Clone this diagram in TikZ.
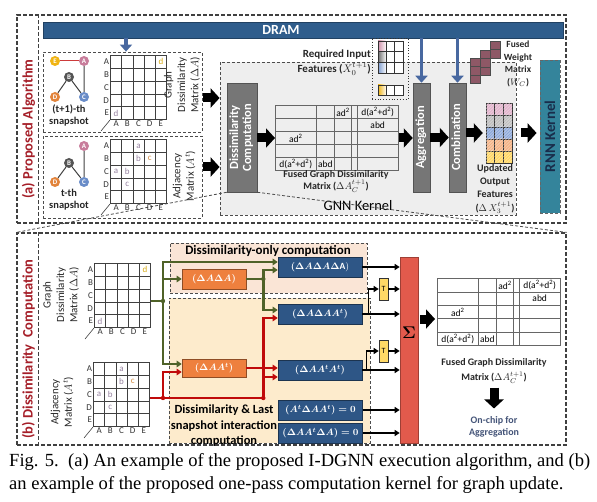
\documentclass[tikz,border=0pt]{standalone}
\usepackage{fix-cm}
\usepackage{amsmath,amssymb}
\usepackage{fontspec}
\setmainfont{Carlito}
\newfontfamily\capfont{Liberation Serif}
\usepackage{tikz}
\usetikzlibrary{arrows.meta, positioning, fit, calc, matrix, patterns}
\definecolor{DramBlue}{RGB}{47,93,140}
\definecolor{ArrBlue}{RGB}{72,104,160}
\definecolor{ProcGray}{RGB}{118,118,118}
\definecolor{KernGray}{RGB}{238,238,238}
\definecolor{SecRed}{RGB}{165,30,40}
\definecolor{OpOrange}{RGB}{238,128,62}
\definecolor{OpBlue}{RGB}{46,86,134}
\definecolor{LnGreen}{RGB}{79,98,40}
\definecolor{LnRed}{RGB}{192,10,10}
\definecolor{RegPink}{RGB}{250,229,214}
\definecolor{RegCream}{RGB}{253,235,204}
\definecolor{SumRed}{RGB}{226,90,76}
\definecolor{TYellow}{RGB}{255,217,102}
\definecolor{RnnTeal}{RGB}{52,132,155}
\definecolor{RnnText}{RGB}{25,45,75}
\definecolor{WMaroon}{RGB}{142,88,102}
\definecolor{NdYellow}{RGB}{240,180,20}
\definecolor{NdPink}{RGB}{200,125,155}
\definecolor{NdGray}{RGB}{85,85,85}
\definecolor{NdOrange}{RGB}{226,132,60}
\definecolor{NdBlue}{RGB}{105,140,200}
\definecolor{LtMauve}{RGB}{150,130,160}
\definecolor{LtGold}{RGB}{215,170,20}
\definecolor{LtOrange}{RGB}{210,140,70}
\definecolor{FtPink}{RGB}{226,180,204}
\definecolor{FtGray}{RGB}{190,190,190}
\definecolor{FtBlue}{RGB}{140,168,218}
\definecolor{FtOrange}{RGB}{244,178,132}
\definecolor{FtYellow}{RGB}{255,215,100}
\definecolor{ChipText}{RGB}{68,84,120}
\newcommand{\fsz}[2]{\fontsize{#1}{#2}\selectfont}
\newcommand{\vlab}[1]{\rotatebox{90}{\begin{tabular}{@{}c@{}}#1\end{tabular}}}
\newcommand{\tsq}{\textsuperscript{2}}
\tikzset{
  secbox/.style={draw=black!75, line width=1.2bp, dash pattern=on 4bp off 2bp},
  dbox/.style={draw=black!70, line width=0.8bp, dash pattern=on 3bp off 2bp},
  procbox/.style={rectangle, fill=ProcGray, draw=ProcGray!70!black, line width=0.5bp,
    text=white, font=\fsz{12.5}{13}\bfseries, inner sep=0pt},
  opbox/.style={rectangle, fill=OpOrange, draw=OpOrange!60!black, line width=0.6bp,
    text=white, minimum width=64bp, font=\fsz{9.5}{10}},
  resbox/.style={rectangle, fill=OpBlue, draw=OpBlue!60!black, line width=0.6bp,
    text=white, minimum width=84bp, minimum height=20bp, font=\fsz{9.5}{10}},
  tbox/.style={rectangle, fill=TYellow, draw=black!80, line width=0.6bp,
    minimum width=9bp, minimum height=22bp, inner sep=0pt, font=\fsz{8}{9}},
  gnode/.style={circle, minimum size=10bp, inner sep=0pt, text=white, font=\fsz{7}{8}\bfseries},
  gedge/.style={draw=black!75, line width=1bp},
  cellmat/.style={matrix of nodes, nodes in empty cells, inner sep=0pt,
    column sep=-0.6bp, row sep=-0.6bp,
    nodes={draw=black!75, line width=0.6bp, minimum width=11.2bp, minimum height=12.8bp,
      inner sep=0pt, anchor=center, text=LtMauve, font=\fsz{9}{10}}},
  fusedmat/.style={matrix of nodes, nodes in empty cells, inner sep=0pt,
    column sep=-0.6bp, row sep=-0.6bp,
    nodes={draw=black!60, line width=0.6bp, minimum height=13bp, inner sep=0pt,
      anchor=center, font=\fsz{9.5}{10}},
    column 1/.style={nodes={minimum width=40.6bp}},
    column 2/.style={nodes={minimum width=18.6bp}},
    column 3/.style={nodes={minimum width=16.6bp}},
    column 4/.style={nodes={minimum width=5.6bp}},
    column 5/.style={nodes={minimum width=41.6bp}}},
  axl/.style={font=\fsz{9}{10}, text=black!80, inner sep=1bp},
  lbl/.style={font=\fsz{10.5}{12}\bfseries, text=black!85, align=center, inner sep=0pt},
  vlbl/.style={font=\fsz{11}{13.5}, text=black!85, align=center, rotate=90, inner sep=0pt},
  fatarr/.style={-{Triangle[length=9bp, width=19bp]}, line width=9bp, draw=black},
  dramarr/.style={-{Triangle[length=7bp, width=12bp]}, line width=3.5bp, draw=ArrBlue},
  garr/.style={-{Triangle[length=5bp, width=6.5bp]}, line width=2.4bp, draw=LnGreen},
  gln/.style={line width=2.4bp, draw=LnGreen},
  rarr/.style={-{Triangle[length=5bp, width=6.5bp]}, line width=2.4bp, draw=LnRed},
  rln/.style={line width=2.4bp, draw=LnRed},
  barr/.style={-{Triangle[length=5bp, width=6bp]}, line width=1.6bp, draw=black}
}

\begin{document}
\begin{tikzpicture}[x=1bp, y=-1bp, font=\fsz{10}{12}]
\useasboundingbox (0,0) rectangle (597,502);

% ---------- (a) proposed algorithm
\node[secbox, fit={(17,15) (566,223)}, inner sep=0pt] (secA) {};
\draw[secbox] ($(secA.north west)+(22,0)$) -- ($(secA.south west)+(22,0)$);
\node[font=\fsz{14.5}{16}\bfseries, text=SecRed, rotate=90] (labA) at (28.5,129) {(a) Proposed Algorithm};

\node[fill=DramBlue, draw=DramBlue!70!black, line width=0.5bp, fit={(43,22) (563,38)}, inner sep=0pt] (dram) {};
\node[font=\fsz{14}{16}\bfseries, text=white] (dramtxt) at (281,30) {DRAM};

\node[dbox, fit={(43,52) (202,132)}, inner sep=0pt] (snapT1) {};
\node[dbox, fit={(43,136) (202,218)}, inner sep=0pt] (snapT0) {};
\node[dbox, fill=KernGray, fit={(220,62) (516,215)}, inner sep=0pt] (gnn) {};

\coordinate (inT1) at ($(snapT1.north)+(3.5,0)$);
\draw[dramarr] (dram.south -| inT1) -- (inT1);

% snapshot graphs
\node[gnode, fill=NdYellow] (e1) at (55,61) {E};
\node[gnode, fill=NdPink] (a1) at (84,61) {A};
\node[gnode, fill=NdGray] (b1) at (69,77) {B};
\node[gnode, fill=NdOrange] (d1) at (55,97) {D};
\node[gnode, fill=NdBlue] (c1) at (84,97) {C};
\draw[gedge, draw=LnRed!80] (e1) -- (a1);
\draw[gedge] (a1) -- (c1) (b1) -- (d1) (b1) -- (c1);
\node[lbl] (capT1) at (69,115) {(t+1)-th\\snapshot};

\node[gnode, fill=NdPink] (a0) at (84,146) {A};
\node[gnode, fill=NdGray] (b0) at (69,163) {B};
\node[gnode, fill=NdOrange] (d0) at (55,182) {D};
\node[gnode, fill=NdBlue] (c0) at (84,182) {C};
\draw[gedge] (a0) -- (c0) (b0) -- (d0) (b0) -- (c0);
\node[lbl] (capT0) at (69,200) {t-th\\snapshot};

% input matrices
\matrix (mGa) [cellmat, anchor=north west] at (110,55) {
  &&&&|[text=LtGold]|d\\ &&&&\\ &&&&\\ &&&&\\ d&&&&\\ };
\matrix (mAa) [cellmat, anchor=north west] at (110,139) {
  &&a&&\\ &&b&|[text=LtOrange]|c&\\ a&b&&&\\ &c&&&\\ &&&&\\ };
\node[vlbl] (lGa) at (182,85) {Graph\\Dissimilarity\\Matrix ($\Delta A$)};
\node[vlbl] (lAa) at (184,176) {Adjacency\\Matrix ($A^t$)};

\path (snapT1.east) ++(1,6) coordinate (o1);
\draw[fatarr] (o1) -- (o1 -| gnn.west);
\path (snapT0.east) ++(1,-10) coordinate (o0);
\draw[fatarr] (o0) -- (o0 -| gnn.west);

% GNN kernel
\node[procbox, minimum width=30bp, minimum height=109bp] (dc) at (242,137.5) {\vlab{Dissimilarity\\Computation}};
\matrix (fA) [fusedmat, anchor=north west] at (275,105) {
  &&ad\tsq&&d(a\tsq+d\tsq)\\
  &&&&abd\\
  ad\tsq&&&&\\
  &&&&\\
  d(a\tsq+d\tsq)&abd&&&\\ };
\draw[fatarr] (dc.east |- fA.west) -- (fA.west);
\node[lbl, font=\fsz{10}{11.5}\bfseries] (fAlab) at (336,181.5) {Fused Graph Dissimilarity\\Matrix ($\Delta A_C^{t+1}$)};
\node[font=\fsz{14.5}{16}] (gnnlab) at (358,205.5) {GNN Kernel};

\node[draw=black!80, line width=0.8bp, dotted, fit={(372,38) (408,99)}, inner sep=0pt] (rqbox) {};
\foreach \c [count=\i from 0] in {NdPink,NdGray,NdBlue} {
  \draw[draw=black!80, line width=0.6bp, left color=\c!85, right color=white] (378,41+\i*10.7) rectangle ++(8.3,10.7);
  \foreach \j in {1,2}
    \draw[draw=black!80, line width=0.6bp, fill=white] (378+\j*8.3,41+\i*10.7) rectangle ++(8.3,10.7);
}
\draw[draw=black!80, line width=0.6bp, left color=NdYellow, right color=white] (378,85) rectangle ++(8.3,10);
\foreach \j in {1,2}
  \draw[draw=black!80, line width=0.6bp, fill=white] (378+\j*8.3,85) rectangle ++(8.3,10);
\node[lbl, font=\fsz{11}{15}\bfseries, align=right, anchor=east] (rqlab) at (371,62.5) {Required Input\\Features ($X_0^{t+1}$)};

\node[procbox, minimum width=17bp, minimum height=109bp] (agg) at (421.5,137.5) {\vlab{Aggregation}};
\node[procbox, minimum width=17bp, minimum height=109bp] (comb) at (457.5,137.5) {\vlab{Combination}};
\draw[dramarr] (dram.south -| agg.north) -- (agg.north);
\draw[dramarr] (dram.south -| comb.north) -- (comb.north);
\draw[fatarr] (fA.east) -- (fA.east -| agg.west);
\draw[fatarr] (agg.east) -- (comb.west);

% output features and weights
\foreach \c [count=\i from 0] in {FtPink,FtGray,FtBlue,FtOrange,FtYellow}
  \foreach \j in {0,1,2}
    \draw[draw=black!80, line width=0.6bp, fill=\c, postaction={pattern=north east lines, pattern color=white!55!\c}]
      (486+\j*8.7,103+\i*12) rectangle ++(8.7,12);
\node[fit={(486,103) (512,163)}, inner sep=0pt] (feat) {};
\draw[fatarr, shorten >=3bp] (comb.east |- feat.west) -- (feat.west);
\node[lbl, font=\fsz{10}{13.3}\bfseries] (featlab) at (495,189) {Updated\\Output\\Features\\($\Delta\,X_3^{t+1}$)};

\foreach \x/\y/\n in {470/58/3, 480/50/3, 490/41/2}
  \foreach \k in {1,...,\n}
    \draw[fill=WMaroon, draw=black!70, line width=0.6bp] (\x,\y+\k*8.5-8.5) rectangle ++(10,8.5);
\node[lbl, font=\fsz{9.5}{12.7}\bfseries] (wlab) at (518,64) {Fused\\Weight\\Matrix\\($W_C$)};

\node[fill=RnnTeal, draw=black!60, line width=0.8bp, dash pattern=on 3bp off 2bp, minimum width=20bp,
  minimum height=153bp, inner sep=0pt, text=RnnText, font=\fsz{15}{16}\bfseries] (rnn) at (550,136.5) {\rotatebox{90}{RNN Kernel}};
\draw[fatarr, shorten <=9bp, shorten >=3bp] (feat.east) -- (feat.east -| rnn.west);

% ---------- (b) dissimilarity computation
\node[secbox, fit={(17,233) (566,445)}, inner sep=0pt] (secB) {};
\draw[secbox] ($(secB.north west)+(22,0)$) -- ($(secB.south west)+(22,0)$);
\node[font=\fsz{14.5}{16}\bfseries, text=SecRed, rotate=90] (labB) at (28.5,349) {(b) Dissimilarity\ \ Computation};

\draw[dbox] (dc.south west) -- (secB.north west);
\draw[dbox] (dc.south east) -- (secB.north east);

\node[dbox, fill=RegPink, fit={(170,243) (367,293)}, inner sep=0pt] (regT) {};
\node[dbox, fill=RegCream, fit={(169,298) (370,443)}, inner sep=0pt] (regB) {};
\node[font=\fsz{13}{15}\bfseries] (regTlab) at (268,250.5) {Dissimilarity-only computation};
\node[font=\fsz{12.5}{15.5}\bfseries, align=center] (regBlab) at (224,426) {Dissimilarity \& Last\\snapshot interaction\\computation};

\matrix (mGb) [cellmat, anchor=north west] at (94,263) {
  &&&&|[text=LtGold]|d\\ &&&&\\ &&&&\\ &&&&\\ d&&&&\\ };
\matrix (mAb) [cellmat, anchor=north west] at (93,362) {
  &&a&&\\ &&b&|[text=LtOrange]|c&\\ a&b&&&\\ &c&&&\\ &&&&\\ };
\node[vlbl] (lGb) at (61,295) {Graph\\Dissimilarity\\Matrix ($\Delta A$)};
\node[vlbl] (lAb) at (62,402) {Adjacency\\Matrix ($A^t$)};

\foreach \m in {mGa,mAa,mGb,mAb} {
  \foreach \r [count=\i] in {A,B,C,D,E} {
    \node[axl, anchor=east] at (\m-\i-1.west) {\r};
    \node[axl, anchor=north] at (\m-5-\i.south) {\r};
  }
  \draw[line width=0.6bp, black!75] (\m.south west) -- ++(-9,11);
}

\node[opbox, minimum height=20bp] (oDD) at (214,279) {$\boldsymbol{(\Delta A\Delta A)}$};
\node[opbox, minimum height=18bp] (oDAt) at (214,368) {$\boldsymbol{(\Delta AA^t)}$};
\node[resbox] (rDDD) at (320,267) {$\boldsymbol{(\Delta A\Delta A\Delta}\mathbf{A})$};
\node[resbox] (rDDAt) at (320,314) {$\boldsymbol{(\Delta A\Delta AA^t)}$};
\node[resbox] (rDAtAt) at (320,370) {$\boldsymbol{(\Delta AA^tA^t)}$};
\node[resbox] (rZa) at (320.5,410) {$\boldsymbol{(A^t\Delta AA^t)=0}$};
\node[resbox] (rZb) at (320.5,433) {$\boldsymbol{(\Delta AA^t\Delta A)=0}$};

\node[tbox] (tr1) at (383.5,289) {T};
\node[tbox] (tr2) at (383.5,351) {T};
\node[fill=SumRed, draw=SumRed!70!black, line width=0.6bp, minimum width=18bp, minimum height=186bp, inner sep=0pt] (sum) at (409,350) {};
\node[font=\fsz{17}{18}] (sumlab) at (409,333) {$\boldsymbol{\Sigma}$};

% green: dissimilarity paths
\coordinate (gj) at (163,301);
\draw[gln] (mGb.east |- gj) -- (gj);
\draw[garr] (gj) |- ($(rDDD.west)+(0,-5)$);
\draw[garr] (gj |- oDD.west) -- (oDD.west);
\draw[garr] (gj) |- ($(oDAt.west)+(0,-4)$);
\coordinate (gk) at ($(oDD.east)+(17,0)$);
\draw[gln] (oDD.east) -- (gk);
\draw[garr] (gk) |- ($(rDDD.west)+(0,3)$);
\draw[garr] (gk) |- ($(rDDAt.west)+(0,-4)$);

% red: last snapshot paths
\coordinate (rj) at (163,398);
\draw[rln] (mAb.east |- rj) -- (rj);
\draw[rarr] (rj) |- ($(oDAt.west)+(0,4)$);
\coordinate (rk) at (gk |- rj);
\draw[rln] (rj) -- (rk);
\draw[rarr] (rk) |- ($(rDDAt.west)+(0,4)$);
\draw[rarr] ($(rk |- rDAtAt.west)+(0,7)$) -- ($(rDAtAt.west)+(0,7)$);
\draw[rarr] (oDAt.east) -- (oDAt.east -| rDAtAt.west);
\foreach \p in {gj,gk} \fill[LnGreen] (\p) circle (2.2bp);
\foreach \p in {rj,rk} \fill[LnRed] (\p) circle (2.2bp);

% black: into the sum
\draw[barr] (rDDD.east) -- (rDDD.east -| sum.west);
\coordinate (bj1) at ($(rDDAt.east)+(6,0)$);
\draw[barr] (rDDAt.east) -- (rDDAt.east -| sum.west);
\draw[barr] (bj1) |- (tr1.west);
\draw[barr] (tr1.east) -- (tr1.east -| sum.west);
\coordinate (bj2) at ($(rDAtAt.east)+(4,0)$);
\draw[barr] (rDAtAt.east) -- (rDAtAt.east -| sum.west);
\draw[barr] (bj2) |- (tr2.west);
\draw[barr] (tr2.east) -- (tr2.east -| sum.west);
\draw[barr] (rZa.east) -- (rZa.east -| sum.west);
\draw[barr] (rZb.east) -- (rZb.east -| sum.west);

\matrix (fB) [fusedmat, anchor=north west, nodes={minimum height=13.4bp}] at (437,278) {
  &&ad\tsq&&d(a\tsq+d\tsq)\\
  &&&&abd\\
  ad\tsq&&&&\\
  &&&&\\
  d(a\tsq+d\tsq)&abd&&&\\ };
\path (sum.east |- fB.west) ++(2,7) coordinate (s1);
\draw[fatarr] (s1) -- ($(s1 -| fB.west)+(-2,0)$);
\node[lbl, font=\fsz{10}{15}\bfseries] (fBlab) at (494,371) {Fused Graph Dissimilarity\\Matrix ($\Delta A_C^{t+1}$)};
\node[lbl, font=\fsz{10}{12}\bfseries, text=ChipText] (chip) at (494,427) {On-chip for\\Aggregation};
\draw[fatarr, shorten <=4bp, shorten >=8bp] (fBlab.south) -- (chip.north);

% caption
\node[anchor=north west, text width=581bp, align=justify, inner sep=0pt, font=\capfont\fsz{18.6}{23}] (cap) at (9,453)
  {Fig. 5.\ \ (a) An example of the proposed I-DGNN execution algorithm, and (b)\linebreak an example of the proposed one-pass computation kernel for graph update.};
\end{tikzpicture}
\end{document}
